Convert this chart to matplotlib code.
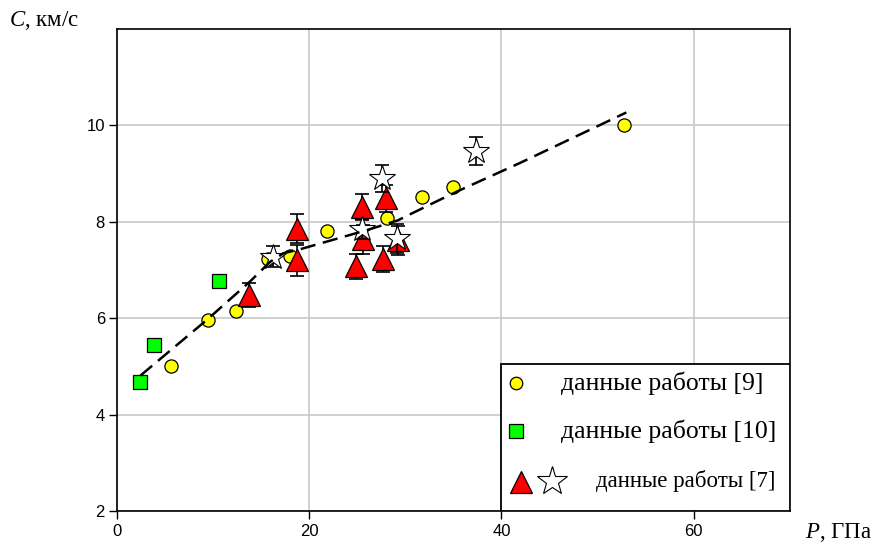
import numpy as np
import matplotlib
matplotlib.use('Agg')
import matplotlib.pyplot as plt
from matplotlib.patches import Rectangle

plt.rcParams['lines.scale_dashes'] = False
plt.rcParams['mathtext.fontset'] = 'custom'
plt.rcParams['mathtext.it'] = 'Liberation Serif:italic'
plt.rcParams['mathtext.rm'] = 'Liberation Serif'

# данные работы [9]
circ_p = [5.6, 9.4, 12.4, 15.7, 18.0, 21.8, 28.1, 31.7, 34.9, 52.8]
circ_c = [5.00, 5.97, 6.16, 7.22, 7.30, 7.82, 8.09, 8.52, 8.72, 10.02]

# данные работы [10]
sq_p = [2.4, 3.8, 10.6]
sq_c = [4.67, 5.44, 6.77]

# данные работы [7] (треугольники)
tri_p = [13.7, 18.7, 18.7, 24.9, 25.5, 25.6, 27.7, 28.0, 29.2]
tri_c = [6.48, 7.86, 7.20, 7.08, 8.31, 7.64, 7.23, 8.49, 7.62]
tri_err = [0.25, 0.30, 0.33, 0.26, 0.27, 0.30, 0.27, 0.28, 0.30]

# данные работы [7] (звёзды)
star_p = [16.2, 25.5, 27.6, 29.1, 37.3]
star_c = [7.28, 7.85, 8.90, 7.66, 9.48]
star_err = [0.22, 0.21, 0.27, 0.30, 0.29]

# аппроксимация (штриховая линия)
fit_p = [2.4, 9.4, 13.8, 15.9, 17.3, 19.0, 21.1, 23.9, 26.0, 29.2, 30.1,
         33.6, 35.7, 41.9, 51.0, 53.0]
fit_c = [4.81, 5.98, 6.76, 7.17, 7.35, 7.43, 7.55, 7.71, 7.83, 8.03, 8.12,
         8.46, 8.66, 9.22, 10.08, 10.27]

serif = ['Liberation Serif', 'DejaVu Serif']
sans = ['Liberation Sans', 'DejaVu Sans']

fig = plt.figure(figsize=(8.74, 5.49), dpi=100)
ax = fig.add_axes([0.1343, 0.0692, 0.7691, 0.8778])

ax.set_xlim(0, 70)
ax.set_ylim(2, 12)
ax.set_xticks([0, 20, 40, 60])
ax.set_yticks([2, 4, 6, 8, 10])
ax.grid(True, color='#c8c8c8', linewidth=1.2)
ax.set_axisbelow(True)
ax.tick_params(direction='out', length=6, width=1, labelsize=12,
               top=False, right=False)
ax.tick_params(axis='y', pad=3)
for lab in ax.get_xticklabels() + ax.get_yticklabels():
    lab.set_family(sans)
for sp in ax.spines.values():
    sp.set_linewidth(1.2)
    sp.set_color('black')

ax.plot(circ_p, circ_c, 'o', ms=9.5, mfc='#FFFF00', mec='black', mew=0.9, zorder=3)
ax.plot(sq_p, sq_c, 's', ms=10.5, mfc='#00FF00', mec='black', mew=0.9, zorder=3)

ax.errorbar(tri_p, tri_c, yerr=tri_err, fmt='none', ecolor='black',
            elinewidth=1.2, capsize=5, capthick=1.2, zorder=4)
ax.plot(tri_p, tri_c, '^', ms=16, mfc='#FF0000', mec='black', mew=0.9, zorder=4.5)

ax.errorbar(star_p, star_c, yerr=star_err, fmt='none', ecolor='black',
            elinewidth=1.2, capsize=5, capthick=1.2, zorder=5)
ax.plot(star_p, star_c, '*', ms=19, mfc='white', mec='black', mew=0.8, zorder=5.5)

ax.plot(fit_p, fit_c, color='black', linewidth=1.8, dashes=(11, 5.5), zorder=6)

# легенда
ax.add_patch(Rectangle((40 / 70, 0), 30 / 70, 0.305, transform=ax.transAxes,
                       facecolor='white', edgecolor='black', linewidth=1.3,
                       zorder=7))
ax.plot([0.593], [0.266], 'o', transform=ax.transAxes, ms=9, mfc='#FFFF00',
        mec='black', mew=0.9, zorder=8, clip_on=False)
ax.plot([0.593], [0.166], 's', transform=ax.transAxes, ms=10.5, mfc='#00FF00',
        mec='black', mew=0.9, zorder=8, clip_on=False)
ax.plot([0.600], [0.060], '^', transform=ax.transAxes, ms=16, mfc='#FF0000',
        mec='black', mew=0.9, zorder=8, clip_on=False)
ax.plot([0.6465], [0.062], '*', transform=ax.transAxes, ms=22, mfc='white',
        mec='black', mew=0.8, zorder=8, clip_on=False)
ax.text(0.66, 0.266, 'данные работы [9]', transform=ax.transAxes,
        family=serif, fontsize=18.5, va='center', ha='left', zorder=9)
ax.text(0.66, 0.166, 'данные работы [10]', transform=ax.transAxes,
        family=serif, fontsize=18.5, va='center', ha='left', zorder=9)
ax.text(0.712, 0.062, 'данные работы [7]', transform=ax.transAxes,
        family=serif, fontsize=16.5, va='center', ha='left', zorder=9)

# подписи осей
fig.text(9 / 874, 1 - 20 / 549, r'$\mathit{C}$, км/с', family=serif,
         fontsize=16.5, va='center', ha='left')
fig.text(805 / 874, 1 - 532 / 549, r'$\mathit{P}$, ГПа', family=serif,
         fontsize=16.5, va='center', ha='left')

fig.savefig('out.png', dpi=100)
